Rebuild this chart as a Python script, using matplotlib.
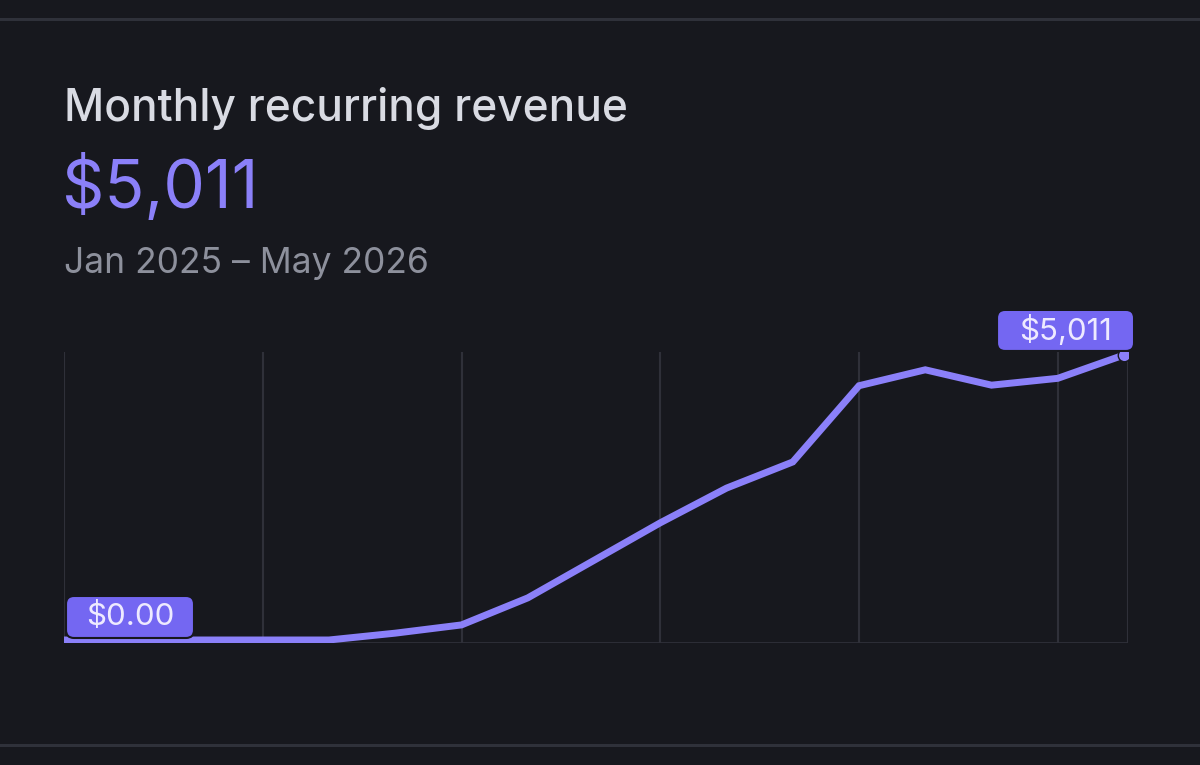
import matplotlib.pyplot as plt
from matplotlib.patches import FancyBboxPatch
from matplotlib.transforms import ScaledTranslation

# monthly MRR, Jan 2025 .. May 2026
months = ["Jan 2025", "Feb 2025", "Mar 2025", "Apr 2025", "May 2025", "Jun 2025",
          "Jul 2025", "Aug 2025", "Sep 2025", "Oct 2025", "Nov 2025", "Dec 2025",
          "Jan 2026", "Feb 2026", "Mar 2026", "Apr 2026", "May 2026"]
mrr = [0, 0, 0, 0, 0, 120, 265, 740, 1400, 2060, 2670, 3130,
       4470, 4750, 4480, 4600, 5011]
grid_months = [0, 3, 6, 9, 12, 15]

bg = "#17181e"
purple = "#8b80f9"
box_purple = "#7467f2"

plt.rcParams['font.family'] = ['Inter', 'DejaVu Sans']

fig = plt.figure(figsize=(12, 7.65), dpi=100, facecolor=bg)
W, H = 1200, 765

# header texts
fig.text(64 / W, 1 - 108 / H, "Monthly recurring revenue", fontsize=31.8,
         color="#d9dbe3", va="center", ha="left", fontweight="medium")
fig.text(62 / W, 1 - 188 / H, "$5,011", fontsize=47.5, color=purple,
         va="center", ha="left")
fig.text(64 / W, 1 - 264 / H, "Jan 2025 \u2013 May 2026", fontsize=25.5,
         color="#8d909c", va="center", ha="left")

# top / bottom separators
for yy in (19, 745):
    fig.add_artist(plt.Line2D([0, 1], [1 - yy / H] * 2, color="#2f313a", lw=2.2))

ax = fig.add_axes([64 / W, 1 - 643 / H, (1128 - 64) / W, (643 - 352) / H])
ax.set_facecolor(bg)
x = list(range(len(months)))
ax.set_xlim(0, 16.06)
ax.set_ylim(-53, 5063)

for gx in grid_months:
    ax.axvline(gx, color="#2f3039", lw=1.5, zorder=1)
ax.axvline(16.06, color="#2f3039", lw=1.5, zorder=1)
ax.axhline(-53, color="#2f3039", lw=2, zorder=1)

ax.plot(x, mrr, color=purple, lw=5, solid_joinstyle="miter", zorder=3)
ax.plot(x[-1], mrr[-1], "o", color=purple, ms=9, zorder=3,
        markeredgecolor=bg, markeredgewidth=1)


def value_tag(text, px, py, left, bottom, w, h):
    # box sized in pixels, anchored to a data point
    tr = fig.dpi_scale_trans + ScaledTranslation(px, py, ax.transData)
    box = FancyBboxPatch((left / 100, bottom / 100), w / 100, h / 100,
                         boxstyle="round,pad=0,rounding_size=0.08",
                         fc=box_purple, ec=bg, lw=1.5, transform=tr, zorder=5,
                         clip_on=False)
    ax.add_patch(box)
    ax.text((left + w / 2) / 100, (bottom + h / 2) / 100, text, transform=tr,
            ha="center", va="center", fontsize=22.5, color="#eeeaff", zorder=6)


value_tag("$0.00", x[0], mrr[0], 2, 2, 128, 42)
value_tag("$5,011", x[-1], mrr[-1], -127, 4, 137, 41)

ax.set_xticks([])
ax.set_yticks([])
for s in ax.spines.values():
    s.set_visible(False)

fig.savefig("out.png", dpi=100, facecolor=bg)
